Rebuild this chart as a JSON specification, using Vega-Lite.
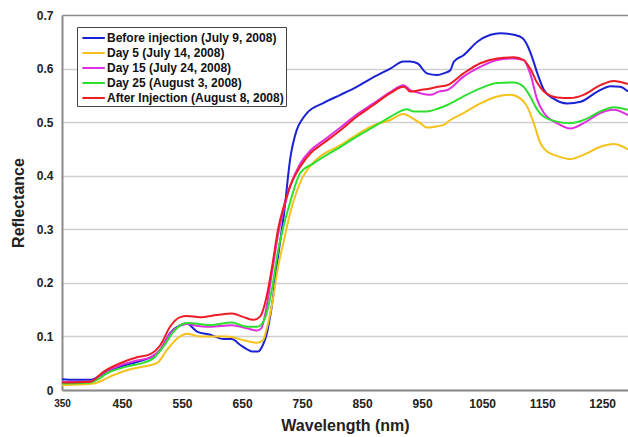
{
  "$schema": "https://vega.github.io/schema/vega-lite/v6.json",
  "width": 566,
  "height": 375,
  "autosize": {"type": "none"},
  "padding": {"left": 62, "top": 15, "right": 0, "bottom": 47},
  "background": "white",
  "config": {
    "view": {"stroke": null},
    "font": "Liberation Sans"
  },
  "datasets": {
    "spectra": [
      {"s": "Before injection (July 9, 2008)", "wl": 350, "r": 0.020},
      {"s": "Before injection (July 9, 2008)", "wl": 370, "r": 0.019},
      {"s": "Before injection (July 9, 2008)", "wl": 397, "r": 0.019},
      {"s": "Before injection (July 9, 2008)", "wl": 415, "r": 0.028},
      {"s": "Before injection (July 9, 2008)", "wl": 430, "r": 0.037},
      {"s": "Before injection (July 9, 2008)", "wl": 458, "r": 0.047},
      {"s": "Before injection (July 9, 2008)", "wl": 486, "r": 0.056},
      {"s": "Before injection (July 9, 2008)", "wl": 502, "r": 0.063},
      {"s": "Before injection (July 9, 2008)", "wl": 514, "r": 0.075},
      {"s": "Before injection (July 9, 2008)", "wl": 530, "r": 0.106},
      {"s": "Before injection (July 9, 2008)", "wl": 547, "r": 0.121},
      {"s": "Before injection (July 9, 2008)", "wl": 558, "r": 0.124},
      {"s": "Before injection (July 9, 2008)", "wl": 575, "r": 0.109},
      {"s": "Before injection (July 9, 2008)", "wl": 597, "r": 0.103},
      {"s": "Before injection (July 9, 2008)", "wl": 619, "r": 0.095},
      {"s": "Before injection (July 9, 2008)", "wl": 633, "r": 0.095},
      {"s": "Before injection (July 9, 2008)", "wl": 647, "r": 0.084},
      {"s": "Before injection (July 9, 2008)", "wl": 660, "r": 0.075},
      {"s": "Before injection (July 9, 2008)", "wl": 667, "r": 0.072},
      {"s": "Before injection (July 9, 2008)", "wl": 677, "r": 0.072},
      {"s": "Before injection (July 9, 2008)", "wl": 685, "r": 0.085},
      {"s": "Before injection (July 9, 2008)", "wl": 690, "r": 0.100},
      {"s": "Before injection (July 9, 2008)", "wl": 700, "r": 0.160},
      {"s": "Before injection (July 9, 2008)", "wl": 710, "r": 0.250},
      {"s": "Before injection (July 9, 2008)", "wl": 720, "r": 0.330},
      {"s": "Before injection (July 9, 2008)", "wl": 730, "r": 0.430},
      {"s": "Before injection (July 9, 2008)", "wl": 741, "r": 0.485},
      {"s": "Before injection (July 9, 2008)", "wl": 750, "r": 0.505},
      {"s": "Before injection (July 9, 2008)", "wl": 758, "r": 0.517},
      {"s": "Before injection (July 9, 2008)", "wl": 786, "r": 0.536},
      {"s": "Before injection (July 9, 2008)", "wl": 814, "r": 0.551},
      {"s": "Before injection (July 9, 2008)", "wl": 841, "r": 0.566},
      {"s": "Before injection (July 9, 2008)", "wl": 869, "r": 0.584},
      {"s": "Before injection (July 9, 2008)", "wl": 897, "r": 0.600},
      {"s": "Before injection (July 9, 2008)", "wl": 919, "r": 0.613},
      {"s": "Before injection (July 9, 2008)", "wl": 930, "r": 0.613},
      {"s": "Before injection (July 9, 2008)", "wl": 942, "r": 0.610},
      {"s": "Before injection (July 9, 2008)", "wl": 958, "r": 0.591},
      {"s": "Before injection (July 9, 2008)", "wl": 975, "r": 0.588},
      {"s": "Before injection (July 9, 2008)", "wl": 986, "r": 0.591},
      {"s": "Before injection (July 9, 2008)", "wl": 997, "r": 0.597},
      {"s": "Before injection (July 9, 2008)", "wl": 1003, "r": 0.613},
      {"s": "Before injection (July 9, 2008)", "wl": 1019, "r": 0.625},
      {"s": "Before injection (July 9, 2008)", "wl": 1042, "r": 0.650},
      {"s": "Before injection (July 9, 2008)", "wl": 1064, "r": 0.663},
      {"s": "Before injection (July 9, 2008)", "wl": 1080, "r": 0.666},
      {"s": "Before injection (July 9, 2008)", "wl": 1103, "r": 0.663},
      {"s": "Before injection (July 9, 2008)", "wl": 1117, "r": 0.657},
      {"s": "Before injection (July 9, 2008)", "wl": 1125, "r": 0.644},
      {"s": "Before injection (July 9, 2008)", "wl": 1133, "r": 0.622},
      {"s": "Before injection (July 9, 2008)", "wl": 1142, "r": 0.591},
      {"s": "Before injection (July 9, 2008)", "wl": 1153, "r": 0.560},
      {"s": "Before injection (July 9, 2008)", "wl": 1169, "r": 0.544},
      {"s": "Before injection (July 9, 2008)", "wl": 1192, "r": 0.535},
      {"s": "Before injection (July 9, 2008)", "wl": 1214, "r": 0.538},
      {"s": "Before injection (July 9, 2008)", "wl": 1242, "r": 0.557},
      {"s": "Before injection (July 9, 2008)", "wl": 1264, "r": 0.567},
      {"s": "Before injection (July 9, 2008)", "wl": 1280, "r": 0.566},
      {"s": "Before injection (July 9, 2008)", "wl": 1293, "r": 0.557},

      {"s": "Day 5 (July 14, 2008)", "wl": 350, "r": 0.009},
      {"s": "Day 5 (July 14, 2008)", "wl": 403, "r": 0.012},
      {"s": "Day 5 (July 14, 2008)", "wl": 430, "r": 0.025},
      {"s": "Day 5 (July 14, 2008)", "wl": 458, "r": 0.037},
      {"s": "Day 5 (July 14, 2008)", "wl": 486, "r": 0.044},
      {"s": "Day 5 (July 14, 2008)", "wl": 508, "r": 0.050},
      {"s": "Day 5 (July 14, 2008)", "wl": 525, "r": 0.075},
      {"s": "Day 5 (July 14, 2008)", "wl": 542, "r": 0.096},
      {"s": "Day 5 (July 14, 2008)", "wl": 558, "r": 0.105},
      {"s": "Day 5 (July 14, 2008)", "wl": 580, "r": 0.100},
      {"s": "Day 5 (July 14, 2008)", "wl": 625, "r": 0.100},
      {"s": "Day 5 (July 14, 2008)", "wl": 653, "r": 0.093},
      {"s": "Day 5 (July 14, 2008)", "wl": 675, "r": 0.088},
      {"s": "Day 5 (July 14, 2008)", "wl": 685, "r": 0.093},
      {"s": "Day 5 (July 14, 2008)", "wl": 690, "r": 0.110},
      {"s": "Day 5 (July 14, 2008)", "wl": 700, "r": 0.160},
      {"s": "Day 5 (July 14, 2008)", "wl": 710, "r": 0.230},
      {"s": "Day 5 (July 14, 2008)", "wl": 720, "r": 0.280},
      {"s": "Day 5 (July 14, 2008)", "wl": 730, "r": 0.330},
      {"s": "Day 5 (July 14, 2008)", "wl": 741, "r": 0.370},
      {"s": "Day 5 (July 14, 2008)", "wl": 750, "r": 0.395},
      {"s": "Day 5 (July 14, 2008)", "wl": 769, "r": 0.425},
      {"s": "Day 5 (July 14, 2008)", "wl": 814, "r": 0.457},
      {"s": "Day 5 (July 14, 2008)", "wl": 869, "r": 0.494},
      {"s": "Day 5 (July 14, 2008)", "wl": 897, "r": 0.504},
      {"s": "Day 5 (July 14, 2008)", "wl": 919, "r": 0.515},
      {"s": "Day 5 (July 14, 2008)", "wl": 930, "r": 0.510},
      {"s": "Day 5 (July 14, 2008)", "wl": 947, "r": 0.498},
      {"s": "Day 5 (July 14, 2008)", "wl": 958, "r": 0.490},
      {"s": "Day 5 (July 14, 2008)", "wl": 978, "r": 0.493},
      {"s": "Day 5 (July 14, 2008)", "wl": 986, "r": 0.495},
      {"s": "Day 5 (July 14, 2008)", "wl": 997, "r": 0.504},
      {"s": "Day 5 (July 14, 2008)", "wl": 1019, "r": 0.517},
      {"s": "Day 5 (July 14, 2008)", "wl": 1047, "r": 0.535},
      {"s": "Day 5 (July 14, 2008)", "wl": 1075, "r": 0.548},
      {"s": "Day 5 (July 14, 2008)", "wl": 1097, "r": 0.551},
      {"s": "Day 5 (July 14, 2008)", "wl": 1114, "r": 0.544},
      {"s": "Day 5 (July 14, 2008)", "wl": 1125, "r": 0.529},
      {"s": "Day 5 (July 14, 2008)", "wl": 1136, "r": 0.498},
      {"s": "Day 5 (July 14, 2008)", "wl": 1147, "r": 0.461},
      {"s": "Day 5 (July 14, 2008)", "wl": 1158, "r": 0.445},
      {"s": "Day 5 (July 14, 2008)", "wl": 1175, "r": 0.437},
      {"s": "Day 5 (July 14, 2008)", "wl": 1197, "r": 0.431},
      {"s": "Day 5 (July 14, 2008)", "wl": 1219, "r": 0.439},
      {"s": "Day 5 (July 14, 2008)", "wl": 1247, "r": 0.454},
      {"s": "Day 5 (July 14, 2008)", "wl": 1269, "r": 0.459},
      {"s": "Day 5 (July 14, 2008)", "wl": 1283, "r": 0.455},
      {"s": "Day 5 (July 14, 2008)", "wl": 1293, "r": 0.449},

      {"s": "Day 15 (July 24, 2008)", "wl": 350, "r": 0.015},
      {"s": "Day 15 (July 24, 2008)", "wl": 397, "r": 0.016},
      {"s": "Day 15 (July 24, 2008)", "wl": 419, "r": 0.032},
      {"s": "Day 15 (July 24, 2008)", "wl": 447, "r": 0.046},
      {"s": "Day 15 (July 24, 2008)", "wl": 475, "r": 0.055},
      {"s": "Day 15 (July 24, 2008)", "wl": 497, "r": 0.061},
      {"s": "Day 15 (July 24, 2008)", "wl": 514, "r": 0.076},
      {"s": "Day 15 (July 24, 2008)", "wl": 530, "r": 0.105},
      {"s": "Day 15 (July 24, 2008)", "wl": 547, "r": 0.120},
      {"s": "Day 15 (July 24, 2008)", "wl": 558, "r": 0.123},
      {"s": "Day 15 (July 24, 2008)", "wl": 580, "r": 0.119},
      {"s": "Day 15 (July 24, 2008)", "wl": 597, "r": 0.118},
      {"s": "Day 15 (July 24, 2008)", "wl": 633, "r": 0.121},
      {"s": "Day 15 (July 24, 2008)", "wl": 658, "r": 0.115},
      {"s": "Day 15 (July 24, 2008)", "wl": 675, "r": 0.111},
      {"s": "Day 15 (July 24, 2008)", "wl": 682, "r": 0.115},
      {"s": "Day 15 (July 24, 2008)", "wl": 690, "r": 0.150},
      {"s": "Day 15 (July 24, 2008)", "wl": 700, "r": 0.220},
      {"s": "Day 15 (July 24, 2008)", "wl": 710, "r": 0.290},
      {"s": "Day 15 (July 24, 2008)", "wl": 720, "r": 0.340},
      {"s": "Day 15 (July 24, 2008)", "wl": 730, "r": 0.380},
      {"s": "Day 15 (July 24, 2008)", "wl": 747, "r": 0.423},
      {"s": "Day 15 (July 24, 2008)", "wl": 764, "r": 0.447},
      {"s": "Day 15 (July 24, 2008)", "wl": 786, "r": 0.466},
      {"s": "Day 15 (July 24, 2008)", "wl": 814, "r": 0.490},
      {"s": "Day 15 (July 24, 2008)", "wl": 841, "r": 0.514},
      {"s": "Day 15 (July 24, 2008)", "wl": 869, "r": 0.535},
      {"s": "Day 15 (July 24, 2008)", "wl": 897, "r": 0.556},
      {"s": "Day 15 (July 24, 2008)", "wl": 919, "r": 0.569},
      {"s": "Day 15 (July 24, 2008)", "wl": 930, "r": 0.560},
      {"s": "Day 15 (July 24, 2008)", "wl": 947, "r": 0.554},
      {"s": "Day 15 (July 24, 2008)", "wl": 964, "r": 0.551},
      {"s": "Day 15 (July 24, 2008)", "wl": 978, "r": 0.557},
      {"s": "Day 15 (July 24, 2008)", "wl": 992, "r": 0.560},
      {"s": "Day 15 (July 24, 2008)", "wl": 1019, "r": 0.585},
      {"s": "Day 15 (July 24, 2008)", "wl": 1047, "r": 0.603},
      {"s": "Day 15 (July 24, 2008)", "wl": 1075, "r": 0.616},
      {"s": "Day 15 (July 24, 2008)", "wl": 1103, "r": 0.619},
      {"s": "Day 15 (July 24, 2008)", "wl": 1119, "r": 0.616},
      {"s": "Day 15 (July 24, 2008)", "wl": 1130, "r": 0.591},
      {"s": "Day 15 (July 24, 2008)", "wl": 1142, "r": 0.541},
      {"s": "Day 15 (July 24, 2008)", "wl": 1153, "r": 0.517},
      {"s": "Day 15 (July 24, 2008)", "wl": 1175, "r": 0.498},
      {"s": "Day 15 (July 24, 2008)", "wl": 1197, "r": 0.488},
      {"s": "Day 15 (July 24, 2008)", "wl": 1219, "r": 0.498},
      {"s": "Day 15 (July 24, 2008)", "wl": 1247, "r": 0.517},
      {"s": "Day 15 (July 24, 2008)", "wl": 1269, "r": 0.523},
      {"s": "Day 15 (July 24, 2008)", "wl": 1293, "r": 0.513},

      {"s": "Day 25 (August 3, 2008)", "wl": 350, "r": 0.012},
      {"s": "Day 25 (August 3, 2008)", "wl": 397, "r": 0.014},
      {"s": "Day 25 (August 3, 2008)", "wl": 430, "r": 0.034},
      {"s": "Day 25 (August 3, 2008)", "wl": 458, "r": 0.044},
      {"s": "Day 25 (August 3, 2008)", "wl": 486, "r": 0.051},
      {"s": "Day 25 (August 3, 2008)", "wl": 502, "r": 0.059},
      {"s": "Day 25 (August 3, 2008)", "wl": 519, "r": 0.081},
      {"s": "Day 25 (August 3, 2008)", "wl": 536, "r": 0.109},
      {"s": "Day 25 (August 3, 2008)", "wl": 553, "r": 0.124},
      {"s": "Day 25 (August 3, 2008)", "wl": 560, "r": 0.125},
      {"s": "Day 25 (August 3, 2008)", "wl": 597, "r": 0.121},
      {"s": "Day 25 (August 3, 2008)", "wl": 633, "r": 0.126},
      {"s": "Day 25 (August 3, 2008)", "wl": 658, "r": 0.118},
      {"s": "Day 25 (August 3, 2008)", "wl": 675, "r": 0.118},
      {"s": "Day 25 (August 3, 2008)", "wl": 682, "r": 0.122},
      {"s": "Day 25 (August 3, 2008)", "wl": 690, "r": 0.140},
      {"s": "Day 25 (August 3, 2008)", "wl": 700, "r": 0.190},
      {"s": "Day 25 (August 3, 2008)", "wl": 710, "r": 0.260},
      {"s": "Day 25 (August 3, 2008)", "wl": 720, "r": 0.310},
      {"s": "Day 25 (August 3, 2008)", "wl": 730, "r": 0.350},
      {"s": "Day 25 (August 3, 2008)", "wl": 741, "r": 0.390},
      {"s": "Day 25 (August 3, 2008)", "wl": 747, "r": 0.405},
      {"s": "Day 25 (August 3, 2008)", "wl": 769, "r": 0.423},
      {"s": "Day 25 (August 3, 2008)", "wl": 814, "r": 0.454},
      {"s": "Day 25 (August 3, 2008)", "wl": 841, "r": 0.473},
      {"s": "Day 25 (August 3, 2008)", "wl": 869, "r": 0.491},
      {"s": "Day 25 (August 3, 2008)", "wl": 897, "r": 0.510},
      {"s": "Day 25 (August 3, 2008)", "wl": 925, "r": 0.524},
      {"s": "Day 25 (August 3, 2008)", "wl": 936, "r": 0.520},
      {"s": "Day 25 (August 3, 2008)", "wl": 958, "r": 0.520},
      {"s": "Day 25 (August 3, 2008)", "wl": 978, "r": 0.526},
      {"s": "Day 25 (August 3, 2008)", "wl": 992, "r": 0.532},
      {"s": "Day 25 (August 3, 2008)", "wl": 1019, "r": 0.548},
      {"s": "Day 25 (August 3, 2008)", "wl": 1047, "r": 0.563},
      {"s": "Day 25 (August 3, 2008)", "wl": 1075, "r": 0.573},
      {"s": "Day 25 (August 3, 2008)", "wl": 1103, "r": 0.574},
      {"s": "Day 25 (August 3, 2008)", "wl": 1119, "r": 0.566},
      {"s": "Day 25 (August 3, 2008)", "wl": 1130, "r": 0.548},
      {"s": "Day 25 (August 3, 2008)", "wl": 1142, "r": 0.523},
      {"s": "Day 25 (August 3, 2008)", "wl": 1153, "r": 0.510},
      {"s": "Day 25 (August 3, 2008)", "wl": 1175, "r": 0.501},
      {"s": "Day 25 (August 3, 2008)", "wl": 1197, "r": 0.498},
      {"s": "Day 25 (August 3, 2008)", "wl": 1219, "r": 0.504},
      {"s": "Day 25 (August 3, 2008)", "wl": 1247, "r": 0.520},
      {"s": "Day 25 (August 3, 2008)", "wl": 1269, "r": 0.528},
      {"s": "Day 25 (August 3, 2008)", "wl": 1293, "r": 0.523},

      {"s": "After Injection (August 8, 2008)", "wl": 350, "r": 0.014},
      {"s": "After Injection (August 8, 2008)", "wl": 397, "r": 0.0155},
      {"s": "After Injection (August 8, 2008)", "wl": 419, "r": 0.034},
      {"s": "After Injection (August 8, 2008)", "wl": 447, "r": 0.050},
      {"s": "After Injection (August 8, 2008)", "wl": 475, "r": 0.061},
      {"s": "After Injection (August 8, 2008)", "wl": 497, "r": 0.067},
      {"s": "After Injection (August 8, 2008)", "wl": 514, "r": 0.084},
      {"s": "After Injection (August 8, 2008)", "wl": 530, "r": 0.118},
      {"s": "After Injection (August 8, 2008)", "wl": 547, "r": 0.136},
      {"s": "After Injection (August 8, 2008)", "wl": 558, "r": 0.138},
      {"s": "After Injection (August 8, 2008)", "wl": 580, "r": 0.136},
      {"s": "After Injection (August 8, 2008)", "wl": 608, "r": 0.140},
      {"s": "After Injection (August 8, 2008)", "wl": 633, "r": 0.143},
      {"s": "After Injection (August 8, 2008)", "wl": 653, "r": 0.136},
      {"s": "After Injection (August 8, 2008)", "wl": 669, "r": 0.131},
      {"s": "After Injection (August 8, 2008)", "wl": 680, "r": 0.137},
      {"s": "After Injection (August 8, 2008)", "wl": 690, "r": 0.170},
      {"s": "After Injection (August 8, 2008)", "wl": 700, "r": 0.230},
      {"s": "After Injection (August 8, 2008)", "wl": 710, "r": 0.300},
      {"s": "After Injection (August 8, 2008)", "wl": 720, "r": 0.345},
      {"s": "After Injection (August 8, 2008)", "wl": 730, "r": 0.380},
      {"s": "After Injection (August 8, 2008)", "wl": 747, "r": 0.417},
      {"s": "After Injection (August 8, 2008)", "wl": 764, "r": 0.442},
      {"s": "After Injection (August 8, 2008)", "wl": 786, "r": 0.461},
      {"s": "After Injection (August 8, 2008)", "wl": 814, "r": 0.485},
      {"s": "After Injection (August 8, 2008)", "wl": 841, "r": 0.510},
      {"s": "After Injection (August 8, 2008)", "wl": 869, "r": 0.532},
      {"s": "After Injection (August 8, 2008)", "wl": 897, "r": 0.554},
      {"s": "After Injection (August 8, 2008)", "wl": 919, "r": 0.566},
      {"s": "After Injection (August 8, 2008)", "wl": 925, "r": 0.562},
      {"s": "After Injection (August 8, 2008)", "wl": 930, "r": 0.557},
      {"s": "After Injection (August 8, 2008)", "wl": 947, "r": 0.560},
      {"s": "After Injection (August 8, 2008)", "wl": 964, "r": 0.563},
      {"s": "After Injection (August 8, 2008)", "wl": 977, "r": 0.566},
      {"s": "After Injection (August 8, 2008)", "wl": 992, "r": 0.569},
      {"s": "After Injection (August 8, 2008)", "wl": 1019, "r": 0.591},
      {"s": "After Injection (August 8, 2008)", "wl": 1047, "r": 0.610},
      {"s": "After Injection (August 8, 2008)", "wl": 1075, "r": 0.619},
      {"s": "After Injection (August 8, 2008)", "wl": 1103, "r": 0.621},
      {"s": "After Injection (August 8, 2008)", "wl": 1119, "r": 0.616},
      {"s": "After Injection (August 8, 2008)", "wl": 1130, "r": 0.600},
      {"s": "After Injection (August 8, 2008)", "wl": 1142, "r": 0.573},
      {"s": "After Injection (August 8, 2008)", "wl": 1153, "r": 0.557},
      {"s": "After Injection (August 8, 2008)", "wl": 1175, "r": 0.546},
      {"s": "After Injection (August 8, 2008)", "wl": 1197, "r": 0.545},
      {"s": "After Injection (August 8, 2008)", "wl": 1219, "r": 0.551},
      {"s": "After Injection (August 8, 2008)", "wl": 1247, "r": 0.569},
      {"s": "After Injection (August 8, 2008)", "wl": 1269, "r": 0.577},
      {"s": "After Injection (August 8, 2008)", "wl": 1293, "r": 0.571}
    ]
  },
  "data": {"name": "spectra"},
  "mark": {"type": "line", "strokeWidth": 2, "interpolate": "monotone", "clip": true},
  "encoding": {
    "x": {
      "field": "wl",
      "type": "quantitative",
      "scale": {"domain": [350, 1293], "nice": false, "zero": false},
      "axis": {
        "title": "Wavelength (nm)",
        "values": [350, 450, 550, 650, 750, 850, 950, 1050, 1150, 1250],
        "format": "d",
        "grid": false,
        "ticks": false,
        "domainColor": "#8a8a8a",
        "domainWidth": 2,
        "labelFont": "Liberation Sans",
        "labelFontWeight": "bold",
        "labelFontSize": {"expr": "datum.value == 350 ? 10 : 12"},
        "labelColor": "#222",
        "labelPadding": 8,
        "labelFlush": false,
        "labelOverlap": false,
        "titleFont": "Liberation Sans",
        "titleFontWeight": "bold",
        "titleFontSize": 16,
        "titleColor": "#222",
        "titlePadding": 8
      }
    },
    "y": {
      "field": "r",
      "type": "quantitative",
      "scale": {"domain": [0, 0.7], "nice": false},
      "axis": {
        "title": "Reflectance",
        "values": [0, 0.1, 0.2, 0.3, 0.4, 0.5, 0.6, 0.7],
        "labelExpr": "datum.value == 0 ? '0' : format(datum.value, '.1f')",
        "grid": true,
        "gridColor": {"expr": "datum.value == 0.7 ? '#8a8a8a' : '#cfcfcf'"},
        "gridWidth": 1.5,
        "ticks": false,
        "domainColor": "#8a8a8a",
        "domainWidth": 2,
        "labelFont": "Liberation Sans",
        "labelFontWeight": "bold",
        "labelFontSize": 12,
        "labelColor": "#222",
        "labelPadding": 9,
        "titleFont": "Liberation Sans",
        "titleFontWeight": "bold",
        "titleFontSize": 16,
        "titleColor": "#222",
        "titlePadding": 10
      }
    },
    "color": {
      "field": "s",
      "type": "nominal",
      "sort": ["Before injection (July 9, 2008)", "Day 5 (July 14, 2008)", "Day 15 (July 24, 2008)", "Day 25 (August 3, 2008)", "After Injection (August 8, 2008)"],
      "scale": {
        "domain": ["Before injection (July 9, 2008)", "Day 5 (July 14, 2008)", "Day 15 (July 24, 2008)", "Day 25 (August 3, 2008)", "After Injection (August 8, 2008)"],
        "range": ["#1a22d4", "#f5c21b", "#e02ee0", "#2ee02e", "#ee1c24"]
      },
      "legend": {
        "title": null,
        "orient": "none",
        "legendX": 15,
        "legendY": 12,
        "strokeColor": "#444",
        "fillColor": "white",
        "padding": 2,
        "symbolType": "M-0.7,0L2.1,0",
        "symbolSize": 256,
        "symbolStrokeWidth": 2,
        "labelFont": "Liberation Sans",
        "labelFontWeight": "bold",
        "labelFontSize": 12,
        "labelColor": "#111",
        "labelOffset": 10,
        "rowPadding": 0,
        "labelLimit": 300
      }
    }
  }
}
